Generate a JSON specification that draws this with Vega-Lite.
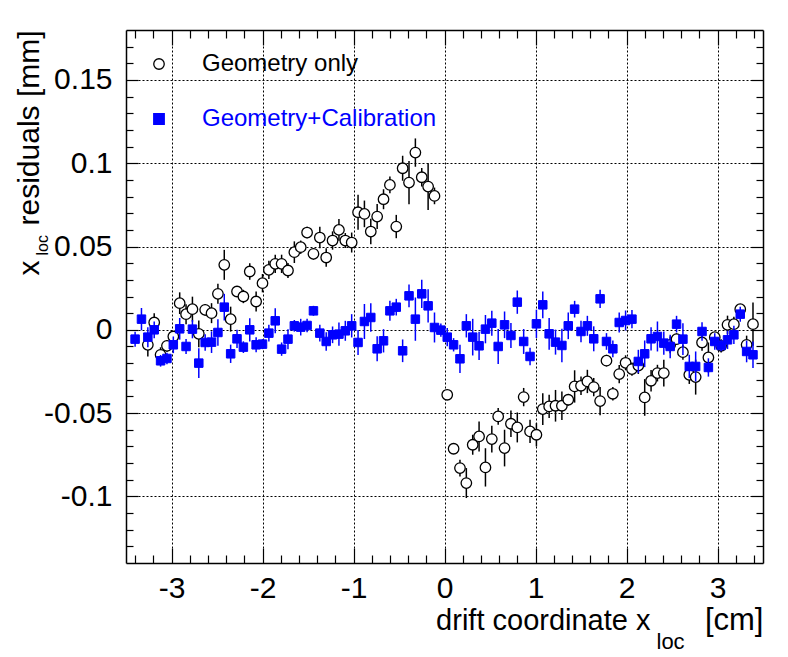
{
"$schema": "https://vega.github.io/schema/vega-lite/v6.json",
"width": 637, "height": 533,
"autosize": {"type": "none"},
"padding": {"left": 126, "top": 30, "right": 25, "bottom": 94},
"background": "white",
"datasets": {
"g": [
{"s":"Geometry only","x":-3.26,"y":-0.009,"e":0.007},
{"s":"Geometry only","x":-3.19,"y":0.0044,"e":0.0055},
{"s":"Geometry only","x":-3.12,"y":-0.015,"e":0.0045},
{"s":"Geometry only","x":-3.05,"y":-0.0096,"e":0.0035},
{"s":"Geometry only","x":-2.98,"y":-0.004,"e":0.003},
{"s":"Geometry only","x":-2.91,"y":0.016,"e":0.0065},
{"s":"Geometry only","x":-2.84,"y":0.0094,"e":0.006},
{"s":"Geometry only","x":-2.77,"y":0.0124,"e":0.0075},
{"s":"Geometry only","x":-2.70,"y":-0.0024,"e":0.008},
{"s":"Geometry only","x":-2.63,"y":0.012,"e":0.0035},
{"s":"Geometry only","x":-2.56,"y":0.010,"e":0.006},
{"s":"Geometry only","x":-2.49,"y":0.0216,"e":0.006},
{"s":"Geometry only","x":-2.42,"y":0.039,"e":0.009},
{"s":"Geometry only","x":-2.35,"y":0.0064,"e":0.0075},
{"s":"Geometry only","x":-2.28,"y":0.023,"e":0.003},
{"s":"Geometry only","x":-2.21,"y":0.020,"e":0.004},
{"s":"Geometry only","x":-2.14,"y":0.035,"e":0.005},
{"s":"Geometry only","x":-2.07,"y":0.017,"e":0.006},
{"s":"Geometry only","x":-2.00,"y":0.028,"e":0.0055},
{"s":"Geometry only","x":-1.93,"y":0.036,"e":0.0055},
{"s":"Geometry only","x":-1.86,"y":0.0396,"e":0.0055},
{"s":"Geometry only","x":-1.79,"y":0.0396,"e":0.0055},
{"s":"Geometry only","x":-1.72,"y":0.0356,"e":0.0045},
{"s":"Geometry only","x":-1.65,"y":0.0466,"e":0.0065},
{"s":"Geometry only","x":-1.58,"y":0.0496,"e":0.004},
{"s":"Geometry only","x":-1.51,"y":0.0584,"e":0.0035},
{"s":"Geometry only","x":-1.44,"y":0.0456,"e":0.0035},
{"s":"Geometry only","x":-1.37,"y":0.0554,"e":0.0065},
{"s":"Geometry only","x":-1.30,"y":0.0434,"e":0.0055},
{"s":"Geometry only","x":-1.23,"y":0.0536,"e":0.0055},
{"s":"Geometry only","x":-1.16,"y":0.060,"e":0.0065},
{"s":"Geometry only","x":-1.09,"y":0.0536,"e":0.0045},
{"s":"Geometry only","x":-1.02,"y":0.0524,"e":0.006},
{"s":"Geometry only","x":-0.95,"y":0.0706,"e":0.0105},
{"s":"Geometry only","x":-0.88,"y":0.0696,"e":0.008},
{"s":"Geometry only","x":-0.81,"y":0.059,"e":0.0077},
{"s":"Geometry only","x":-0.74,"y":0.068,"e":0.0075},
{"s":"Geometry only","x":-0.67,"y":0.0784,"e":0.006},
{"s":"Geometry only","x":-0.60,"y":0.087,"e":0.005},
{"s":"Geometry only","x":-0.53,"y":0.062,"e":0.007},
{"s":"Geometry only","x":-0.46,"y":0.097,"e":0.0075},
{"s":"Geometry only","x":-0.39,"y":0.0884,"e":0.013},
{"s":"Geometry only","x":-0.32,"y":0.1064,"e":0.0085},
{"s":"Geometry only","x":-0.25,"y":0.0916,"e":0.0055},
{"s":"Geometry only","x":-0.18,"y":0.086,"e":0.014},
{"s":"Geometry only","x":-0.11,"y":0.0804,"e":0.005},
{"s":"Geometry only","x":0.03,"y":-0.039,"e":0.003},
{"s":"Geometry only","x":0.10,"y":-0.0714,"e":0.003},
{"s":"Geometry only","x":0.17,"y":-0.083,"e":0.005},
{"s":"Geometry only","x":0.24,"y":-0.092,"e":0.009},
{"s":"Geometry only","x":0.31,"y":-0.069,"e":0.006},
{"s":"Geometry only","x":0.38,"y":-0.064,"e":0.009},
{"s":"Geometry only","x":0.45,"y":-0.0826,"e":0.0115},
{"s":"Geometry only","x":0.52,"y":-0.0656,"e":0.008},
{"s":"Geometry only","x":0.59,"y":-0.052,"e":0.005},
{"s":"Geometry only","x":0.66,"y":-0.071,"e":0.011},
{"s":"Geometry only","x":0.73,"y":-0.0564,"e":0.008},
{"s":"Geometry only","x":0.80,"y":-0.0586,"e":0.009},
{"s":"Geometry only","x":0.87,"y":-0.0404,"e":0.0055},
{"s":"Geometry only","x":0.94,"y":-0.061,"e":0.007},
{"s":"Geometry only","x":1.01,"y":-0.063,"e":0.007},
{"s":"Geometry only","x":1.08,"y":-0.0476,"e":0.0095},
{"s":"Geometry only","x":1.15,"y":-0.046,"e":0.007},
{"s":"Geometry only","x":1.22,"y":-0.0456,"e":0.0095},
{"s":"Geometry only","x":1.29,"y":-0.0456,"e":0.0085},
{"s":"Geometry only","x":1.36,"y":-0.042,"e":0.0035},
{"s":"Geometry only","x":1.43,"y":-0.034,"e":0.0097},
{"s":"Geometry only","x":1.50,"y":-0.0336,"e":0.0055},
{"s":"Geometry only","x":1.57,"y":-0.031,"e":0.007},
{"s":"Geometry only","x":1.64,"y":-0.0344,"e":0.0055},
{"s":"Geometry only","x":1.71,"y":-0.0428,"e":0.0085},
{"s":"Geometry only","x":1.78,"y":-0.0185,"e":0.0035},
{"s":"Geometry only","x":1.85,"y":-0.0384,"e":0.004},
{"s":"Geometry only","x":1.92,"y":-0.0266,"e":0.0055},
{"s":"Geometry only","x":1.99,"y":-0.0198,"e":0.0045},
{"s":"Geometry only","x":2.06,"y":-0.0236,"e":0.004},
{"s":"Geometry only","x":2.13,"y":-0.0215,"e":0.005},
{"s":"Geometry only","x":2.20,"y":-0.0406,"e":0.011},
{"s":"Geometry only","x":2.27,"y":-0.0306,"e":0.0065},
{"s":"Geometry only","x":2.34,"y":-0.026,"e":0.005},
{"s":"Geometry only","x":2.41,"y":-0.026,"e":0.008},
{"s":"Geometry only","x":2.48,"y":-0.009,"e":0.005},
{"s":"Geometry only","x":2.55,"y":-0.0056,"e":0.0035},
{"s":"Geometry only","x":2.62,"y":-0.0134,"e":0.0045},
{"s":"Geometry only","x":2.69,"y":-0.027,"e":0.0055},
{"s":"Geometry only","x":2.76,"y":-0.0284,"e":0.0105},
{"s":"Geometry only","x":2.83,"y":-0.0076,"e":0.005},
{"s":"Geometry only","x":2.90,"y":-0.0166,"e":0.009},
{"s":"Geometry only","x":2.97,"y":-0.0044,"e":0.0025},
{"s":"Geometry only","x":3.04,"y":-0.0096,"e":0.004},
{"s":"Geometry only","x":3.11,"y":0.003,"e":0.0055},
{"s":"Geometry only","x":3.18,"y":0.0034,"e":0.0045},
{"s":"Geometry only","x":3.25,"y":0.0124,"e":0.003},
{"s":"Geometry only","x":3.32,"y":-0.009,"e":0.0055},
{"s":"Geometry only","x":3.39,"y":0.0034,"e":0.013}
],
"c": [
{"s":"Geometry+Calibration","x":-3.40,"y":-0.0056,"e":0.0045},
{"s":"Geometry+Calibration","x":-3.33,"y":0.0064,"e":0.0067},
{"s":"Geometry+Calibration","x":-3.26,"y":-0.0044,"e":0.006},
{"s":"Geometry+Calibration","x":-3.19,"y":0.0,"e":0.005},
{"s":"Geometry+Calibration","x":-3.12,"y":-0.0186,"e":0.0035},
{"s":"Geometry+Calibration","x":-3.05,"y":-0.0172,"e":0.0035},
{"s":"Geometry+Calibration","x":-2.98,"y":-0.009,"e":0.005},
{"s":"Geometry+Calibration","x":-2.91,"y":0.0006,"e":0.0065},
{"s":"Geometry+Calibration","x":-2.84,"y":-0.010,"e":0.0045},
{"s":"Geometry+Calibration","x":-2.77,"y":0.0004,"e":0.0055},
{"s":"Geometry+Calibration","x":-2.70,"y":-0.020,"e":0.009},
{"s":"Geometry+Calibration","x":-2.63,"y":-0.0076,"e":0.005},
{"s":"Geometry+Calibration","x":-2.56,"y":-0.0074,"e":0.0065},
{"s":"Geometry+Calibration","x":-2.49,"y":-0.0016,"e":0.008},
{"s":"Geometry+Calibration","x":-2.42,"y":0.0136,"e":0.008},
{"s":"Geometry+Calibration","x":-2.35,"y":-0.0144,"e":0.0055},
{"s":"Geometry+Calibration","x":-2.28,"y":-0.0054,"e":0.0055},
{"s":"Geometry+Calibration","x":-2.21,"y":-0.0104,"e":0.0035},
{"s":"Geometry+Calibration","x":-2.14,"y":0.0,"e":0.007},
{"s":"Geometry+Calibration","x":-2.07,"y":-0.009,"e":0.0045},
{"s":"Geometry+Calibration","x":-2.00,"y":-0.0086,"e":0.003},
{"s":"Geometry+Calibration","x":-1.93,"y":-0.002,"e":0.005},
{"s":"Geometry+Calibration","x":-1.86,"y":0.0054,"e":0.0075},
{"s":"Geometry+Calibration","x":-1.79,"y":-0.0116,"e":0.004},
{"s":"Geometry+Calibration","x":-1.72,"y":-0.0056,"e":0.006},
{"s":"Geometry+Calibration","x":-1.65,"y":0.0024,"e":0.0035},
{"s":"Geometry+Calibration","x":-1.58,"y":0.0016,"e":0.005},
{"s":"Geometry+Calibration","x":-1.51,"y":0.0026,"e":0.004},
{"s":"Geometry+Calibration","x":-1.44,"y":0.0114,"e":0.003},
{"s":"Geometry+Calibration","x":-1.37,"y":-0.002,"e":0.005},
{"s":"Geometry+Calibration","x":-1.30,"y":-0.007,"e":0.0055},
{"s":"Geometry+Calibration","x":-1.23,"y":-0.003,"e":0.005},
{"s":"Geometry+Calibration","x":-1.16,"y":-0.0026,"e":0.007},
{"s":"Geometry+Calibration","x":-1.09,"y":-0.0006,"e":0.006},
{"s":"Geometry+Calibration","x":-1.02,"y":0.0024,"e":0.007},
{"s":"Geometry+Calibration","x":-0.95,"y":-0.0076,"e":0.0075},
{"s":"Geometry+Calibration","x":-0.88,"y":0.005,"e":0.0105},
{"s":"Geometry+Calibration","x":-0.81,"y":0.0074,"e":0.0085},
{"s":"Geometry+Calibration","x":-0.74,"y":-0.0114,"e":0.0075},
{"s":"Geometry+Calibration","x":-0.67,"y":-0.0066,"e":0.007},
{"s":"Geometry+Calibration","x":-0.60,"y":0.0114,"e":0.006},
{"s":"Geometry+Calibration","x":-0.53,"y":0.0136,"e":0.005},
{"s":"Geometry+Calibration","x":-0.46,"y":-0.0126,"e":0.0068},
{"s":"Geometry+Calibration","x":-0.39,"y":0.0204,"e":0.0068},
{"s":"Geometry+Calibration","x":-0.32,"y":0.0064,"e":0.013},
{"s":"Geometry+Calibration","x":-0.25,"y":0.0216,"e":0.0085},
{"s":"Geometry+Calibration","x":-0.18,"y":0.0144,"e":0.01},
{"s":"Geometry+Calibration","x":-0.11,"y":0.0014,"e":0.009},
{"s":"Geometry+Calibration","x":-0.04,"y":-0.0002,"e":0.004},
{"s":"Geometry+Calibration","x":0.03,"y":-0.0044,"e":0.0055},
{"s":"Geometry+Calibration","x":0.10,"y":-0.009,"e":0.004},
{"s":"Geometry+Calibration","x":0.17,"y":-0.0174,"e":0.0085},
{"s":"Geometry+Calibration","x":0.24,"y":0.0024,"e":0.007},
{"s":"Geometry+Calibration","x":0.31,"y":-0.0044,"e":0.011},
{"s":"Geometry+Calibration","x":0.38,"y":-0.0096,"e":0.0085},
{"s":"Geometry+Calibration","x":0.45,"y":0.0004,"e":0.0085},
{"s":"Geometry+Calibration","x":0.52,"y":0.004,"e":0.0075},
{"s":"Geometry+Calibration","x":0.59,"y":-0.010,"e":0.0105},
{"s":"Geometry+Calibration","x":0.66,"y":0.003,"e":0.008},
{"s":"Geometry+Calibration","x":0.73,"y":-0.0034,"e":0.0075},
{"s":"Geometry+Calibration","x":0.80,"y":0.0166,"e":0.007},
{"s":"Geometry+Calibration","x":0.87,"y":-0.007,"e":0.0075},
{"s":"Geometry+Calibration","x":0.94,"y":-0.016,"e":0.0053},
{"s":"Geometry+Calibration","x":1.01,"y":0.0036,"e":0.0085},
{"s":"Geometry+Calibration","x":1.08,"y":0.015,"e":0.008},
{"s":"Geometry+Calibration","x":1.15,"y":-0.0024,"e":0.0095},
{"s":"Geometry+Calibration","x":1.22,"y":-0.0074,"e":0.0075},
{"s":"Geometry+Calibration","x":1.29,"y":-0.0094,"e":0.01},
{"s":"Geometry+Calibration","x":1.36,"y":0.0024,"e":0.008},
{"s":"Geometry+Calibration","x":1.43,"y":0.0124,"e":0.005},
{"s":"Geometry+Calibration","x":1.50,"y":-0.001,"e":0.0065},
{"s":"Geometry+Calibration","x":1.57,"y":0.0024,"e":0.006},
{"s":"Geometry+Calibration","x":1.64,"y":-0.0054,"e":0.0075},
{"s":"Geometry+Calibration","x":1.71,"y":0.0186,"e":0.0055},
{"s":"Geometry+Calibration","x":1.78,"y":-0.007,"e":0.005},
{"s":"Geometry+Calibration","x":1.85,"y":-0.0114,"e":0.005},
{"s":"Geometry+Calibration","x":1.92,"y":0.0044,"e":0.006},
{"s":"Geometry+Calibration","x":1.99,"y":0.0056,"e":0.006},
{"s":"Geometry+Calibration","x":2.06,"y":0.0064,"e":0.0055},
{"s":"Geometry+Calibration","x":2.13,"y":-0.019,"e":0.007},
{"s":"Geometry+Calibration","x":2.20,"y":-0.0144,"e":0.008},
{"s":"Geometry+Calibration","x":2.27,"y":-0.0054,"e":0.007},
{"s":"Geometry+Calibration","x":2.34,"y":-0.004,"e":0.009},
{"s":"Geometry+Calibration","x":2.41,"y":-0.008,"e":0.007},
{"s":"Geometry+Calibration","x":2.48,"y":-0.010,"e":0.007},
{"s":"Geometry+Calibration","x":2.55,"y":0.0034,"e":0.005},
{"s":"Geometry+Calibration","x":2.62,"y":-0.0056,"e":0.0095},
{"s":"Geometry+Calibration","x":2.69,"y":-0.022,"e":0.007},
{"s":"Geometry+Calibration","x":2.76,"y":-0.022,"e":0.009},
{"s":"Geometry+Calibration","x":2.83,"y":-0.001,"e":0.0055},
{"s":"Geometry+Calibration","x":2.90,"y":-0.0226,"e":0.0055},
{"s":"Geometry+Calibration","x":2.97,"y":-0.007,"e":0.005},
{"s":"Geometry+Calibration","x":3.04,"y":-0.0094,"e":0.0035},
{"s":"Geometry+Calibration","x":3.11,"y":-0.006,"e":0.0055},
{"s":"Geometry+Calibration","x":3.18,"y":-0.003,"e":0.0055},
{"s":"Geometry+Calibration","x":3.25,"y":0.0094,"e":0.0045},
{"s":"Geometry+Calibration","x":3.32,"y":-0.013,"e":0.0065},
{"s":"Geometry+Calibration","x":3.39,"y":-0.015,"e":0.008}
]
},
"config": {
"font": "Liberation Sans",
"view": {"stroke": null},
"axis": {"labelFont": "Liberation Sans", "labelFontSize": 30, "labelColor": "#000000", "tickColor": "#000000", "tickWidth": 1.2, "domainColor": "#000000", "domainWidth": 1.5, "titleFont": "Liberation Sans", "titleColor": "#000000", "titleFontWeight": "normal", "titlePadding": 0, "labelFlush": false, "labelOverlap": false, "gridColor": "#000000", "gridDash": [2, 2], "gridWidth": 1, "gridOpacity": 1}
},
"resolve": {"axis": {"x": "independent", "y": "independent"}},
"layer": [
{
"data": {"name": "g"},
"mark": {"type": "errorbar", "ticks": false, "color": "#000000", "thickness": 1.5},
"encoding": {
"x": {"field": "x", "type": "quantitative", "scale": {"domain": [-3.5, 3.5], "nice": false, "zero": false},
 "axis": {"orient": "bottom", "values": [-3, -2, -1, 0, 1, 2, 3], "tickSize": -15, "labelPadding": 25, "grid": true, "domain": true,
  "labelExpr": "(datum.value < 0 ? '-' : '') + format(abs(datum.value), '~g')",
  "title": "drift coordinate x", "titleFont": "Liberation Sans", "titleFontSize": 29, "titleX": 524, "titleY": 66, "titleAlign": "right", "titleBaseline": "alphabetic", "titleAngle": 0}},
"y": {"field": "y", "type": "quantitative", "scale": {"domain": [-0.14, 0.18], "nice": false, "zero": false},
 "axis": {"orient": "left", "values": [-0.1, -0.05, 0, 0.05, 0.1, 0.15], "tickSize": -12, "labelPadding": 26, "grid": true, "domain": true,
  "labelExpr": "(datum.value < 0 ? '-' : '') + format(abs(datum.value), '~g')",
  "title": "x", "titleFontSize": 30, "titleX": -88, "titleY": 245, "titleAngle": 270, "titleAlign": "left", "titleBaseline": "alphabetic"}},
"yError": {"field": "e"}
}
},
{
"data": {"name": "g"},
"mark": {"type": "point", "filled": true, "size": 110, "strokeWidth": 1.3, "opacity": 1},
"encoding": {
"x": {"field": "x", "type": "quantitative", "scale": {"domain": [-3.5, 3.5], "nice": false, "zero": false},
 "axis": {"orient": "bottom", "values": [-3.4, -3.2, -2.8, -2.6, -2.4, -2.2, -1.8, -1.6, -1.4, -1.2, -0.8, -0.6, -0.4, -0.2, 0.2, 0.4, 0.6, 0.8, 1.2, 1.4, 1.6, 1.8, 2.2, 2.4, 2.6, 2.8, 3.2, 3.4], "tickSize": -8, "labels": false, "grid": false, "domain": false,
  "title": "loc", "titleFontSize": 22, "titleX": 530, "titleY": 85, "titleAlign": "left", "titleBaseline": "alphabetic", "titleAngle": 0}},
"y": {"field": "y", "type": "quantitative", "scale": {"domain": [-0.14, 0.18], "nice": false, "zero": false},
 "axis": {"orient": "left", "values": [-0.13, -0.12, -0.11, -0.09, -0.08, -0.07, -0.06, -0.04, -0.03, -0.02, -0.01, 0.01, 0.02, 0.03, 0.04, 0.06, 0.07, 0.08, 0.09, 0.11, 0.12, 0.13, 0.14, 0.16, 0.17], "tickSize": -7, "labels": false, "grid": false, "domain": false,
  "title": "loc", "titleFontSize": 16, "titleX": -79, "titleY": 225, "titleAngle": 270, "titleAlign": "left", "titleBaseline": "alphabetic"}},
"shape": {"field": "s", "type": "nominal", "title": null, "scale": {"domain": ["Geometry only", "Geometry+Calibration"], "range": ["circle", "square"]},
 "legend": {"orient": "none", "legendX": 21, "legendY": 22, "labelFont": "Liberation Sans", "labelFontSize": 24, "labelLimit": 400, "labelOffset": 31, "rowPadding": 31, "symbolSize": 110, "symbolStrokeWidth": 1.3, "padding": 0, "labelColor": {"expr": "datum.value == 'Geometry only' ? '#000000' : '#0000ff'"}}},
"fill": {"field": "s", "type": "nominal", "title": null, "scale": {"domain": ["Geometry only", "Geometry+Calibration"], "range": ["#ffffff", "#0000ff"]},
 "legend": {"orient": "none", "legendX": 21, "legendY": 22, "labelFont": "Liberation Sans", "labelFontSize": 24, "labelLimit": 400, "labelOffset": 31, "rowPadding": 31, "symbolSize": 110, "symbolStrokeWidth": 1.3, "padding": 0, "labelColor": {"expr": "datum.value == 'Geometry only' ? '#000000' : '#0000ff'"}}},
"stroke": {"field": "s", "type": "nominal", "title": null, "scale": {"domain": ["Geometry only", "Geometry+Calibration"], "range": ["#000000", "#0000ff"]},
 "legend": {"orient": "none", "legendX": 21, "legendY": 22, "labelFont": "Liberation Sans", "labelFontSize": 24, "labelLimit": 400, "labelOffset": 31, "rowPadding": 31, "symbolSize": 110, "symbolStrokeWidth": 1.3, "padding": 0, "labelColor": {"expr": "datum.value == 'Geometry only' ? '#000000' : '#0000ff'"}}}
}
},
{
"data": {"name": "c"},
"mark": {"type": "errorbar", "ticks": false, "color": "#0000ff", "thickness": 1.5},
"encoding": {
"x": {"field": "x", "type": "quantitative", "scale": {"domain": [-3.5, 3.5], "nice": false, "zero": false},
 "axis": {"orient": "top", "values": [-3, -2, -1, 0, 1, 2, 3], "tickSize": -15, "labels": false, "grid": false, "domain": true,
  "title": "[cm]", "titleFontSize": 31, "titleX": 637, "titleY": 599, "titleAlign": "right", "titleBaseline": "alphabetic", "titleAngle": 0}},
"y": {"field": "y", "type": "quantitative", "scale": {"domain": [-0.14, 0.18], "nice": false, "zero": false},
 "axis": {"orient": "right", "values": [-0.1, -0.05, 0, 0.05, 0.1, 0.15], "tickSize": -12, "labels": false, "grid": false, "domain": true,
  "title": "residuals [mm]", "titleFontSize": 30, "titleX": -725, "titleY": 195, "titleAngle": 270, "titleAlign": "left", "titleBaseline": "alphabetic"}},
"yError": {"field": "e"}
}
},
{
"data": {"name": "c"},
"mark": {"type": "point", "filled": true, "size": 72, "strokeWidth": 1, "opacity": 1},
"encoding": {
"x": {"field": "x", "type": "quantitative", "scale": {"domain": [-3.5, 3.5], "nice": false, "zero": false},
 "axis": {"orient": "top", "values": [-3.4, -3.2, -2.8, -2.6, -2.4, -2.2, -1.8, -1.6, -1.4, -1.2, -0.8, -0.6, -0.4, -0.2, 0.2, 0.4, 0.6, 0.8, 1.2, 1.4, 1.6, 1.8, 2.2, 2.4, 2.6, 2.8, 3.2, 3.4], "tickSize": -8, "labels": false, "grid": false, "domain": false, "title": null}},
"y": {"field": "y", "type": "quantitative", "scale": {"domain": [-0.14, 0.18], "nice": false, "zero": false},
 "axis": {"orient": "right", "values": [-0.13, -0.12, -0.11, -0.09, -0.08, -0.07, -0.06, -0.04, -0.03, -0.02, -0.01, 0.01, 0.02, 0.03, 0.04, 0.06, 0.07, 0.08, 0.09, 0.11, 0.12, 0.13, 0.14, 0.16, 0.17], "tickSize": -7, "labels": false, "grid": false, "domain": false, "title": null}},
"shape": {"field": "s", "type": "nominal", "title": null, "scale": {"domain": ["Geometry only", "Geometry+Calibration"], "range": ["circle", "square"]},
 "legend": {"orient": "none", "legendX": 21, "legendY": 22, "labelFont": "Liberation Sans", "labelFontSize": 24, "labelLimit": 400, "labelOffset": 31, "rowPadding": 31, "symbolSize": 110, "symbolStrokeWidth": 1.3, "padding": 0, "labelColor": {"expr": "datum.value == 'Geometry only' ? '#000000' : '#0000ff'"}}},
"fill": {"field": "s", "type": "nominal", "title": null, "scale": {"domain": ["Geometry only", "Geometry+Calibration"], "range": ["#ffffff", "#0000ff"]},
 "legend": {"orient": "none", "legendX": 21, "legendY": 22, "labelFont": "Liberation Sans", "labelFontSize": 24, "labelLimit": 400, "labelOffset": 31, "rowPadding": 31, "symbolSize": 110, "symbolStrokeWidth": 1.3, "padding": 0, "labelColor": {"expr": "datum.value == 'Geometry only' ? '#000000' : '#0000ff'"}}},
"stroke": {"field": "s", "type": "nominal", "title": null, "scale": {"domain": ["Geometry only", "Geometry+Calibration"], "range": ["#000000", "#0000ff"]},
 "legend": {"orient": "none", "legendX": 21, "legendY": 22, "labelFont": "Liberation Sans", "labelFontSize": 24, "labelLimit": 400, "labelOffset": 31, "rowPadding": 31, "symbolSize": 110, "symbolStrokeWidth": 1.3, "padding": 0, "labelColor": {"expr": "datum.value == 'Geometry only' ? '#000000' : '#0000ff'"}}}
}
}
]
}
